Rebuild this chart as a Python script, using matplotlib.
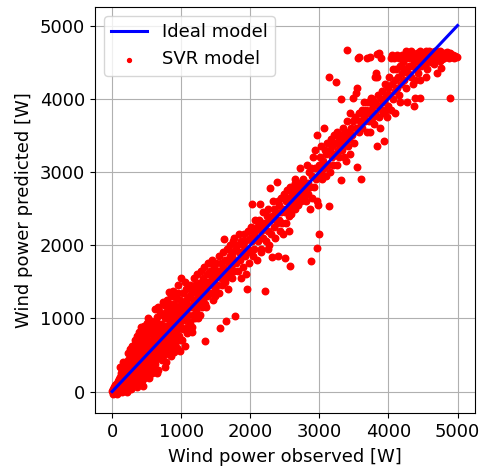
import numpy as np
import matplotlib
matplotlib.use("Agg")
import matplotlib.pyplot as plt

# (observed, predicted) pairs, grouped by observed range
pts_0_500 = [
    (5, 10), (10, -30), (15, 40), (20, 0), (25, 60), (30, -20), (40, 30), (45, 90), (50, -10), (55, 50),
    (60, 110), (65, 20), (70, -40), (75, 80), (80, 140), (85, 40), (90, 0), (95, 100), (100, 170), (100, 60),
    (105, 20), (110, 130), (115, 200), (120, 80), (125, 250), (130, 40), (135, 160), (140, 300), (145, 110),
    (150, 220), (155, 60), (160, 180), (165, 340), (170, 120), (175, 260), (180, 90), (185, 200), (190, 380),
    (195, 150), (200, 280), (150, 0), (180, 30), (120, 330), (160, 400),
    (205, 120), (210, 220), (215, 350), (220, 80), (225, 290), (230, 430), (235, 180), (240, 330), (245, 60),
    (250, 240), (255, 470), (260, 150), (265, 380), (270, 280), (275, 520), (280, 100), (285, 330), (290, 210),
    (295, 450), (300, 300), (230, 520), (260, 580), (290, 620), (220, 0), (270, 40), (300, 160),
    (305, 390), (310, 120), (315, 550), (320, 250), (325, 440), (330, 330), (335, 650), (340, 180), (345, 500),
    (350, 280), (355, 410), (360, 60), (365, 590), (370, 340), (375, 230), (380, 480), (385, 700), (390, 380),
    (395, 150), (400, 550), (310, 250), (340, 380), (370, 450), (400, 280), (330, 700), (360, 760), (390, 820),
    (380, 100),
    (405, 420), (410, 640), (415, 220), (420, 500), (425, 350), (430, 760), (435, 590), (440, 77), (445, 460),
    (450, 300), (455, 680), (460, 520), (465, 180), (470, 400), (475, 830), (480, 600), (485, 320), (490, 480),
    (495, 720), (500, 420), (420, 880), (460, 900), (500, 940), (480, 200), (430, 150), (410, 310), (450, 560),
    (490, 270),
]

pts_500_1000 = [
    (505, 600), (510, 350), (515, 780), (520, 480), (525, 250), (530, 680), (535, 860), (540, 420), (545, 560),
    (550, 960), (555, 300), (560, 640), (565, 490), (570, 800), (575, 380), (580, 700), (585, 540), (590, 900),
    (595, 450), (600, 620), (520, 1000), (560, 967), (580, 250), (600, 760), (540, 180), (590, 340),
    (605, 500), (610, 840), (615, 690), (620, 380), (625, 580), (630, 960), (635, 740), (640, 450), (645, 640),
    (650, 1020), (655, 820), (660, 540), (665, 720), (670, 300), (675, 900), (680, 600), (685, 760), (690, 1080),
    (695, 480), (700, 680), (620, 1130), (660, 1160), (700, 860), (650, 250),
    (705, 560), (710, 920), (715, 780), (720, 430), (725, 660), (730, 1050), (735, 850), (740, 580), (745, 740),
    (750, 1180), (755, 500), (760, 900), (765, 690), (770, 1000), (775, 400), (780, 800), (785, 620), (790, 1100),
    (795, 760), (800, 900), (730, 1230), (790, 1250), (760, 330), (800, 520),
    (805, 700), (810, 1020), (815, 560), (820, 860), (825, 1150), (830, 640), (835, 950), (840, 780), (845, 1300),
    (850, 480), (855, 880), (860, 1060), (865, 720), (870, 1200), (875, 590), (880, 960), (885, 820), (890, 1120),
    (895, 680), (900, 1000), (820, 1360), (880, 1380), (900, 540),
    (905, 820), (910, 1180), (915, 650), (920, 1050), (925, 900), (930, 1280), (935, 740), (940, 1000), (945, 600),
    (950, 1140), (955, 860), (960, 1350), (965, 760), (970, 1060), (975, 920), (980, 1250), (985, 700), (990, 1100),
    (995, 880), (1000, 1000), (1000, 1550), (960, 1450), (980, 560),
]

pts_1000_2000 = [
    (1010, 1200), (1020, 860), (1030, 1350), (1040, 980), (1050, 1500), (1062, 628), (1070, 1120), (1080, 800),
    (1090, 1270), (1100, 1050), (1015, 700), (1045, 1180), (1075, 1400), (1095, 900), (1060, 1000), (1085, 1200),
    (1110, 1300), (1120, 950), (1130, 1450), (1140, 1150), (1150, 880), (1160, 1350), (1170, 1050), (1180, 1550),
    (1190, 1250), (1200, 1000), (1115, 1150), (1145, 1400), (1175, 1180), (1195, 1450), (1160, 820),
    (1210, 1400), (1220, 1100), (1230, 1600), (1240, 1280), (1250, 1000), (1260, 1480), (1270, 1200), (1280, 1650),
    (1290, 1350), (1300, 1150), (1225, 1350), (1265, 1050), (1300, 1500), (1235, 1180), (1285, 1420),
    (1310, 1550), (1320, 1250), (1330, 1700), (1340, 1400), (1349, 696), (1360, 1150), (1370, 1600), (1380, 1300),
    (1390, 1750), (1400, 1450), (1345, 1200), (1385, 1500), (1325, 1380), (1365, 1480),
    (1410, 1650), (1420, 1750), (1430, 1350), (1440, 1550), (1450, 1800), (1460, 1250), (1470, 1500), (1480, 1700),
    (1490, 1400), (1500, 1600), (1455, 1650), (1495, 1300), (1425, 1480), (1475, 1580),
    (1510, 1750), (1520, 1450), (1530, 1650), (1540, 1850), (1550, 1350), (1565, 867), (1570, 1550), (1580, 1750),
    (1590, 1450), (1600, 1900), (1560, 1650), (1600, 1600),
    (1610, 1700), (1620, 2080), (1630, 1500), (1640, 1800), (1651, 967), (1660, 1650), (1670, 1950), (1680, 1400),
    (1690, 1750), (1700, 1850), (1650, 1550), (1700, 1600),
    (1710, 2000), (1720, 1700), (1730, 1550), (1740, 1900), (1750, 2050), (1760, 1800), (1770, 1650), (1780, 1034),
    (1790, 1950), (1800, 1750), (1735, 1850), (1770, 2100),
    (1810, 2000), (1820, 1650), (1830, 1900), (1840, 2150), (1850, 1800), (1860, 1550), (1870, 2050), (1880, 1900),
    (1890, 1700), (1900, 2000), (1860, 1850),
    (1910, 2150), (1920, 1850), (1930, 2050), (1947, 1395), (1960, 1950), (1970, 2200), (1980, 1750), (1990, 2100),
    (2000, 1900), (1940, 1600),
]

pts_2000_3000 = [
    (2010, 2250), (2019, 2566), (2030, 2050), (2040, 1850), (2050, 2200), (2060, 1950), (2070, 2350), (2080, 2100),
    (2090, 1800), (2100, 2250), (2060, 2150),
    (2110, 2050), (2120, 2350), (2139, 2566), (2150, 2200), (2160, 1950), (2170, 2300), (2180, 2100), (2190, 2450),
    (2200, 2250), (2150, 1900),
    (2211, 1373), (2220, 2300), (2230, 2050), (2240, 2400), (2250, 2200), (2260, 2500), (2270, 2000), (2282, 2778),
    (2290, 2350), (2300, 2150), (2250, 1950),
    (2316, 1838), (2320, 2400), (2330, 2600), (2340, 2250), (2350, 2500), (2360, 2100), (2370, 2450), (2380, 2300),
    (2392, 2868), (2400, 2600), (2402, 1847),
    (2410, 2350), (2420, 2550), (2430, 2200), (2440, 2450), (2450, 2650), (2460, 2300), (2470, 2500), (2480, 2150),
    (2490, 2700), (2498, 1825), (2500, 2450),
    (2510, 2600), (2520, 2300), (2530, 2750), (2540, 2500), (2550, 2650), (2560, 2400), (2570, 2800), (2579, 1716),
    (2590, 2550), (2593, 2425), (2600, 2700), (2560, 2200),
    (2610, 2800), (2620, 2600), (2630, 2750), (2640, 2500), (2650, 2850), (2660, 2700), (2670, 2650), (2680, 2800),
    (2690, 2550), (2700, 2750), (2640, 2900), (2700, 2620),
    (2710, 2850), (2720, 2700), (2730, 2600), (2740, 2800), (2750, 2750), (2760, 2900), (2770, 2650), (2780, 2850),
    (2790, 2700), (2800, 2800), (2720, 3050),
    (2810, 2600), (2820, 3100), (2830, 2850), (2840, 2700), (2850, 3000), (2860, 2800), (2880, 1784), (2880, 3050),
    (2890, 2650), (2900, 2950), (2870, 2500),
    (2910, 3200), (2920, 2800), (2930, 3050), (2940, 3300), (2950, 2900), (2962, 1960), (2970, 3500), (2976, 2547),
    (2990, 2154), (2990, 3100), (3000, 2950), (2960, 2600),
]

pts_3000_4000 = [
    (3010, 3200), (3020, 3000), (3030, 3350), (3040, 2900), (3050, 3150), (3060, 3600), (3070, 3050), (3080, 3300),
    (3090, 2950), (3100, 3250),
    (3110, 3400), (3120, 3100), (3134, 4291), (3144, 2538), (3150, 3300), (3160, 3000), (3170, 3450), (3180, 3200),
    (3190, 3350), (3200, 3100),
    (3210, 3500), (3220, 3250), (3239, 4232), (3240, 3400), (3250, 3100), (3260, 3550), (3270, 3300), (3280, 3450),
    (3290, 3200), (3300, 3350),
    (3311, 2886), (3311, 3993), (3320, 3500), (3330, 3300), (3340, 3600), (3350, 3400), (3360, 3200), (3370, 3550),
    (3380, 3150), (3390, 3450), (3400, 3700), (3407, 4670),
    (3410, 3350), (3420, 3550), (3430, 3450), (3440, 3800), (3450, 3250), (3460, 3600), (3470, 3500), (3480, 3700),
    (3493, 4006), (3500, 3400),
    (3510, 3750), (3526, 4074), (3530, 3600), (3550, 3067), (3550, 4142), (3560, 4557), (3570, 3800), (3580, 3550),
    (3590, 3700), (3598, 2900), (3600, 3650), (3578, 4566),
    (3610, 3850), (3620, 3600), (3640, 3750), (3650, 3950), (3660, 3700), (3680, 3850), (3694, 4557), (3700, 3800),
    (3690, 3550), (3736, 4566),
    (3710, 3950), (3720, 3700), (3742, 4006), (3750, 3850), (3760, 4000), (3770, 3750), (3780, 3900), (3790, 3650),
    (3800, 3950), (3730, 3550), (3808, 4295),
    (3810, 3800), (3823, 4354), (3837, 4300), (3837, 4615), (3850, 4050), (3860, 3900), (3870, 3750), (3885, 4557),
    (3890, 4000), (3900, 3850), (3880, 3600), (3865, 4620),
    (3910, 4100), (3920, 3800), (3933, 3419), (3940, 3950), (3950, 4200), (3960, 3850), (3970, 4050), (3980, 3750),
    (3990, 4150), (4000, 3900), (3837, 3351),
]

pts_4000_5000 = [
    (4010, 4300), (4020, 4050), (4030, 4550), (4040, 3850), (4050, 4200), (4060, 4400), (4070, 4000), (4080, 4550),
    (4090, 4250), (4100, 3800), (4050, 4600), (4100, 4100),
    (4110, 4400), (4120, 4600), (4130, 4150), (4140, 4300), (4150, 4550), (4160, 3950), (4170, 4450), (4180, 4200),
    (4190, 4600), (4200, 4350), (4150, 4050),
    (4210, 4500), (4220, 4250), (4230, 4600), (4240, 4400), (4250, 4150), (4260, 4550), (4268, 3961), (4280, 4350),
    (4290, 4620), (4300, 4450), (4250, 4650),
    (4310, 4550), (4320, 4300), (4330, 4620), (4340, 4450), (4350, 4200), (4364, 3902), (4370, 4500), (4388, 4006),
    (4390, 4600), (4400, 4400), (4320, 4650), (4380, 4250),
    (4410, 4550), (4420, 4620), (4430, 4350), (4440, 4500), (4450, 4650), (4459, 4006), (4460, 4580), (4470, 4450),
    (4480, 4600), (4490, 4520), (4500, 4630), (4450, 4250),
    (4510, 4550), (4520, 4620), (4530, 4480), (4540, 4650), (4550, 4580), (4560, 4400), (4570, 4620), (4580, 4520),
    (4590, 4650), (4600, 4560), (4550, 4300),
    (4610, 4620), (4620, 4500), (4630, 4640), (4640, 4570), (4650, 4600), (4660, 4480), (4670, 4650), (4680, 4550),
    (4690, 4620), (4700, 4580), (4700, 4350),
    (4710, 4640), (4720, 4560), (4730, 4600), (4740, 4520), (4750, 4650), (4760, 4580), (4770, 4620), (4780, 4540),
    (4790, 4600), (4800, 4560), (4760, 4420),
    (4810, 4620), (4830, 4580), (4850, 4600), (4870, 4550), (4890, 4015), (4890, 4620), (4910, 4570), (4930, 4600),
    (4950, 4560), (4970, 4580), (4990, 4570), (4850, 4640),
]

ideal = [0, 5000]

pts = np.array(pts_0_500 + pts_500_1000 + pts_1000_2000 + pts_2000_3000 + pts_3000_4000 + pts_4000_5000)
observed = pts[:, 0]
predicted = pts[:, 1]

fig = plt.figure(figsize=(4.84, 4.73), dpi=100)
ax = fig.add_axes([0.196, 0.127, 0.785, 0.858])

ax.plot(ideal, ideal, color='blue', linewidth=2.2, label='Ideal model', zorder=3)
ax.scatter(observed, predicted, s=22, color='red', label='SVR model', zorder=2)

ax.set_xticks([0, 1000, 2000, 3000, 4000, 5000])
ax.set_yticks([0, 1000, 2000, 3000, 4000, 5000])
ax.tick_params(labelsize=13)
ax.set_xlabel('Wind power observed [W]', fontsize=13, labelpad=5)
ax.set_ylabel('Wind power predicted [W]', fontsize=13, labelpad=5)
ax.grid(True)
ax.set_axisbelow(True)
ax.legend(loc='upper left', fontsize=13, markerscale=0.6)

fig.savefig('out.png', dpi=100)
